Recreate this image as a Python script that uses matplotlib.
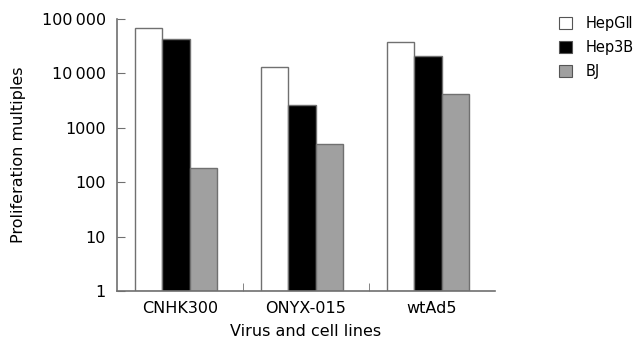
import matplotlib
matplotlib.use("Agg")
import matplotlib.pyplot as plt
from matplotlib.patches import Patch
import numpy as np

plt.rcParams['font.family'] = ['DejaVu Sans', 'Noto Sans CJK SC']

categories = ["CNHK300", "ONYX-015", "wtAd5"]
series_names = ["HepG\u2161", "Hep3B", "BJ"]
hepg2 = [68000, 13000, 38000]
hep3b = [43000, 2600, 21000]
bj = [180, 500, 4200]
ytick_vals = [1, 10, 100, 1000, 10000, 100000]
ytick_labels = ["1", "10", "100", "1000", "10\u2009000", "100\u2009000"]

colors = ["white", "black", "#a0a0a0"]
edge = "#707070"

fig = plt.figure(figsize=(6.43, 3.44), dpi=100)
ax = fig.add_axes([117/643, 1 - 291/344, (495-117)/643, (291-19)/344])

x = np.arange(len(categories))
w = 0.218
shift = -0.03
for i, (vals, c) in enumerate(zip([hepg2, hep3b, bj], colors)):
    ax.bar(x + (i - 1) * w + shift, vals, width=w, bottom=1, color=c,
           edgecolor=edge, linewidth=1.0, align='center')

ax.set_yscale('log')
ax.set_ylim(1, 100000)
ax.set_xlim(-0.5, 2.5)
ax.set_yticks(ytick_vals)
ax.set_yticklabels(ytick_labels)
ax.yaxis.set_minor_locator(matplotlib.ticker.NullLocator())
ax.set_xticks(x)
ax.set_xticklabels(categories)
ax.set_xticks([0.5, 1.5], minor=True)
ax.tick_params(axis='x', which='major', length=0, labelsize=11.5, pad=7)
ax.tick_params(axis='x', which='minor', direction='in', length=6, color=edge)
ax.tick_params(axis='y', direction='in', length=6, color=edge, labelsize=11.5, pad=8)
for s in ['top', 'right']:
    ax.spines[s].set_visible(False)
for s in ['left', 'bottom']:
    ax.spines[s].set_color(edge)
    ax.spines[s].set_linewidth(1.2)

ax.set_ylabel("Proliferation multiples", fontsize=11.5, labelpad=11)
ax.set_xlabel("Virus and cell lines", fontsize=11.5, labelpad=6)

handles = [Patch(facecolor=c, edgecolor="#555555", linewidth=0.8) for c in colors]
fig.legend(handles, series_names, loc='upper left', bbox_to_anchor=(546/643, 1 - 3/344),
           frameon=False, fontsize=10.5, handlelength=0.9, handleheight=0.9,
           labelspacing=0.6, handletextpad=0.9)

fig.savefig("out.png", dpi=100)
